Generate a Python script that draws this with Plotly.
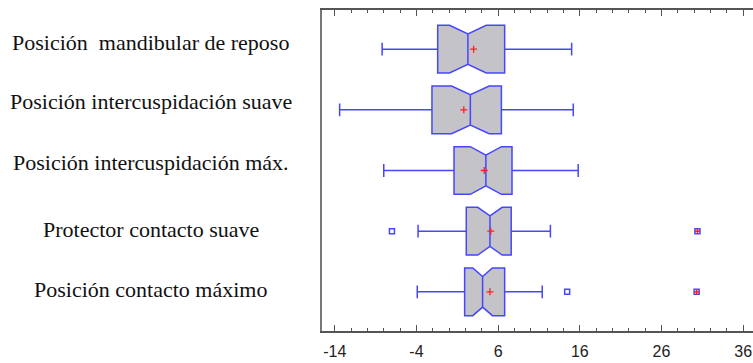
import plotly.graph_objects as go

categories = ["Posición\u00a0 mandibular de reposo",
              "Posición intercuspidación suave",
              "Posición intercuspidación máx.",
              "Protector contacto suave",
              "Posición contacto máximo"]
lower_whisker = [-8.2, -13.4, -8.0, -3.8, -3.9]
q1_vals = [-1.4, -2.1, 0.6, 2.1, 1.9]
median_vals = [2.3, 2.6, 4.5, 5.0, 4.1]
q3_vals = [6.8, 6.4, 7.7, 7.6, 6.8]
upper_whisker = [15.0, 15.2, 15.8, 12.4, 11.4]
mean_vals = [3.0, 1.8, 4.3, 5.1, 5.0]
notch_half = [2.25, 2.3, 1.9, 1.5, 1.2]
outliers = {4: [-7.0], 5: [14.45]}
far_outliers = {4: [30.4], 5: [30.3]}
tick_vals = [-14, -4, 6, 16, 26, 36]
tick_text = ["-14", "-4", "6", "16", "26", "36"]

# label vertical offsets (px) relative to row centre
label_shift = [7, 8, 8, 2, 2]

BLUE = "#4646ff"
GRAY = "#c4c3c7"
RED = "#ff2020"

fig = go.Figure()
for i in range(len(categories)):
    pos = i + 1
    fig.add_trace(go.Box(
        orientation="h", y=[pos],
        q1=[q1_vals[i]], median=[median_vals[i]], q3=[q3_vals[i]],
        lowerfence=[lower_whisker[i]], upperfence=[upper_whisker[i]],
        notched=True, notchspan=[notch_half[i]], notchwidth=0.18,
        width=0.785, whiskerwidth=0.27,
        fillcolor=GRAY, line=dict(color=BLUE, width=1.5),
        boxpoints=False, showlegend=False, hoverinfo="skip"))

fig.add_trace(go.Scatter(
    x=mean_vals, y=list(range(1, len(categories) + 1)), mode="markers",
    marker=dict(symbol="cross-thin", size=5, line=dict(color=RED, width=1.3)),
    showlegend=False, hoverinfo="skip"))

ox, oy = [], []
for k, vals in outliers.items():
    for v in vals:
        ox.append(v); oy.append(k)
fig.add_trace(go.Scatter(
    x=ox, y=oy, mode="markers",
    marker=dict(symbol="square-open", size=5, color=BLUE, line=dict(color=BLUE, width=1.5)),
    showlegend=False, hoverinfo="skip"))

fx, fy = [], []
for k, vals in far_outliers.items():
    for v in vals:
        fx.append(v); fy.append(k)
fig.add_trace(go.Scatter(
    x=fx, y=fy, mode="markers",
    marker=dict(symbol="square-open", size=5, color=BLUE, line=dict(color=BLUE, width=1.5)),
    showlegend=False, hoverinfo="skip"))
fig.add_trace(go.Scatter(
    x=fx, y=fy, mode="markers",
    marker=dict(symbol="cross-thin", size=4, line=dict(color=RED, width=1.5)),
    showlegend=False, hoverinfo="skip"))

for i, name in enumerate(categories):
    fig.add_annotation(
        text=name, xref="paper", x=-0.397, xanchor="center",
        yref="y", y=i + 1, yanchor="middle", yshift=label_shift[i],
        showarrow=False,
        font=dict(family="Liberation Serif, Times New Roman, serif", size=22, color="#111111"))

fig.update_layout(
    width=753, height=363,
    margin=dict(l=322, r=0, t=10, b=32),
    paper_bgcolor="white", plot_bgcolor="white",
    xaxis=dict(range=[-15.56, 37.2], tickmode="array", tickvals=tick_vals, ticktext=tick_text,
               ticks="inside", ticklen=6, tickwidth=1, tickcolor="#555555",
               showline=True, linecolor="#555555", linewidth=1.5,
               mirror="ticks", showgrid=False, zeroline=False,
               ticklabelstandoff=5,
               minor=dict(dtick=2, tick0=-14, ticks="inside", ticklen=3,
                          tickcolor="#555555", tickwidth=1, showgrid=False),
               tickfont=dict(family="Liberation Sans, Arial, sans-serif", size=16, color="#222222")),
    yaxis=dict(range=[5.645, 0.355], showticklabels=False, ticks="",
               showline=True, linecolor="#777777", linewidth=1.5,
               showgrid=False, zeroline=False),
)

fig.write_html("out.html")
